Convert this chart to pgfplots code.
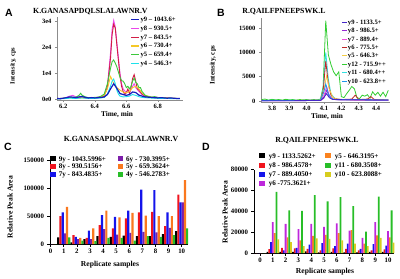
\documentclass[border=0pt]{standalone}
\usepackage{pgfplots}
\pgfplotsset{compat=1.18}
\usepackage{fontspec}
\setmainfont{Liberation Serif}
\newfontfamily\sansf{Liberation Sans}

\definecolor{aBlue}{RGB}{20,30,190}
\definecolor{aMag}{RGB}{235,70,235}
\definecolor{aRed}{RGB}{210,30,70}
\definecolor{aYel}{RGB}{245,200,40}
\definecolor{aGrn}{RGB}{60,200,60}
\definecolor{aCya}{RGB}{30,225,235}
\definecolor{bInd}{RGB}{70,40,200}
\definecolor{bPur}{RGB}{150,40,210}
\definecolor{bMag}{RGB}{240,80,220}
\definecolor{bRed}{RGB}{190,40,40}
\definecolor{bYel}{RGB}{245,205,70}
\definecolor{bGrn}{RGB}{50,205,50}
\definecolor{bCya}{RGB}{50,225,225}
\definecolor{bBlu}{RGB}{30,150,235}
\definecolor{cRed}{RGB}{240,20,30}
\definecolor{cBlue}{RGB}{20,20,235}
\definecolor{cPur}{RGB}{125,30,170}
\definecolor{cOra}{RGB}{250,120,30}
\definecolor{cGrn}{RGB}{40,190,40}
\definecolor{dPur}{RGB}{190,40,220}
\definecolor{dOra}{RGB}{250,130,30}
\definecolor{dOli}{RGB}{215,205,30}

\pgfplotsset{
  common/.style={scale only axis, axis x line*=bottom, axis y line*=left,
    tick align=outside, major tick length=2pt,
    /pgf/number format/assume math mode=true, /pgf/number format/1000 sep={},
    scaled y ticks=false, scaled x ticks=false,
    xticklabel style={yshift=1pt},
    legend cell align=left},
  chrom/.style={common,
    axis line style={black!45, line width=0.6pt}, tick style={black!45, line width=0.5pt},
    ticklabel style={font=\fontsize{6.5}{7}\selectfont\bfseries},
    xticklabel={\pgfmathprintnumber[fixed,fixed zerofill,precision=1]{\tick}},
    legend image code/.code={\draw[#1] (0pt,0pt) -- (8pt,0pt);},
    legend style={draw=none, fill=none, anchor=north west,
      font=\fontsize{6.6}{7}\selectfont\bfseries,
      nodes={inner sep=0.6pt, text height=5pt, text depth=1.2pt}, row sep=1.4pt},
  },
  bars/.style={common,
    axis line style={black, line width=0.8pt}, tick style={black, line width=0.7pt}, major tick length=2.5pt,
    ticklabel style={font=\fontsize{6.8}{7}\selectfont\bfseries},
    xticklabel={\pgfmathprintnumber[fixed,precision=0]{\tick}},
    yticklabel={\pgfmathprintnumber[fixed,precision=0]{\tick}},
    legend image code/.code={\fill[#1] (0pt,-2.4pt) rectangle (5.5pt,2.6pt);},
    legend style={draw=none, fill=none, anchor=north west,
      font=\fontsize{7.1}{7.5}\selectfont\bfseries,
      nodes={inner sep=0.6pt, text height=5.2pt, text depth=1.3pt}},
  },
}

\begin{document}
\begin{tikzpicture}
\path[use as bounding box] (0pt,0pt) rectangle (400pt,-279pt);

% ---------------- A ----------------
\begin{axis}[chrom, at={(57pt,-100pt)}, anchor=south west, width=126pt, height=83pt,
  xmin=6.16, xmax=6.96, ymin=-300, ymax=31800,
  xtick={6.2,6.4,6.6,6.8}, ytick={0,10000,20000,30000}, yticklabels={0e0,1e4,2e4,3e4},
  legend style={at={(0.56,1.04)}}]
\addplot[aMag, line width=0.9pt, forget plot] coordinates {(6.16,200)(6.20,400)(6.22,700)(6.24,1200)(6.26,1500)(6.28,900)(6.30,700)(6.32,900)(6.34,600)(6.36,500)(6.38,700)(6.40,600)(6.42,800)(6.44,900)(6.46,1500)(6.48,5000)(6.50,18000)(6.51,27000)(6.52,30500)(6.53,28000)(6.54,22000)(6.55,16000)(6.56,10000)(6.57,6000)(6.58,4000)(6.60,2500)(6.61,3500)(6.62,2500)(6.64,5000)(6.65,6000)(6.66,4500)(6.68,3000)(6.70,1800)(6.72,1200)(6.74,800)(6.76,600)(6.78,900)(6.80,700)(6.82,500)(6.84,400)(6.86,600)(6.88,400)(6.90,300)(6.94,300)};
\addplot[aRed, line width=0.9pt, forget plot] coordinates {(6.16,200)(6.20,300)(6.24,700)(6.28,600)(6.32,700)(6.36,400)(6.40,500)(6.44,800)(6.46,1200)(6.48,4500)(6.50,16000)(6.51,25000)(6.52,29000)(6.53,27500)(6.54,21000)(6.55,15000)(6.56,9000)(6.57,5000)(6.58,3000)(6.59,1800)(6.60,2500)(6.61,4000)(6.62,2200)(6.63,4500)(6.64,8000)(6.65,9500)(6.66,7000)(6.67,4000)(6.68,3500)(6.70,2000)(6.72,1200)(6.74,800)(6.78,600)(6.82,500)(6.86,400)(6.90,300)(6.94,300)};
\addplot[aYel, line width=0.9pt, forget plot] coordinates {(6.16,200)(6.20,300)(6.24,600)(6.28,400)(6.32,500)(6.36,400)(6.40,500)(6.42,600)(6.44,1000)(6.46,1500)(6.48,4000)(6.50,8800)(6.51,7500)(6.52,6000)(6.53,5500)(6.54,4500)(6.56,3500)(6.58,2800)(6.60,2500)(6.62,3000)(6.64,4500)(6.66,5000)(6.68,4000)(6.70,2500)(6.72,1500)(6.74,1200)(6.76,800)(6.80,600)(6.84,500)(6.88,400)(6.92,300)(6.94,300)};
\addplot[aGrn, line width=0.9pt, forget plot] coordinates {(6.16,200)(6.20,400)(6.24,700)(6.28,800)(6.30,1500)(6.31,2300)(6.32,1500)(6.34,900)(6.36,600)(6.40,700)(6.42,800)(6.44,1200)(6.46,2000)(6.48,6000)(6.50,12000)(6.51,14500)(6.52,15200)(6.53,14000)(6.54,12500)(6.55,10500)(6.56,8500)(6.57,7200)(6.58,7000)(6.59,6000)(6.60,4500)(6.61,5000)(6.62,4000)(6.63,5000)(6.64,7000)(6.65,8200)(6.66,6500)(6.67,6000)(6.68,4500)(6.69,4500)(6.70,3000)(6.72,1500)(6.74,1000)(6.76,800)(6.78,1000)(6.80,700)(6.84,500)(6.88,400)(6.92,300)(6.94,300)};
\addplot[aCya, line width=0.9pt, forget plot] coordinates {(6.16,100)(6.20,200)(6.24,400)(6.28,300)(6.32,500)(6.36,300)(6.40,300)(6.44,500)(6.46,700)(6.48,2000)(6.50,5000)(6.51,7000)(6.52,7800)(6.53,6000)(6.54,3500)(6.55,2000)(6.56,1200)(6.58,900)(6.60,1000)(6.62,1200)(6.64,1800)(6.66,1500)(6.68,1000)(6.70,700)(6.74,500)(6.78,400)(6.82,300)(6.86,300)(6.90,200)(6.94,200)};
\addplot[aBlue, line width=1.2pt, forget plot] coordinates {(6.16,300)(6.18,200)(6.20,400)(6.22,600)(6.24,900)(6.26,800)(6.28,600)(6.30,900)(6.32,1100)(6.34,700)(6.36,500)(6.38,600)(6.40,500)(6.42,600)(6.44,700)(6.46,900)(6.48,1800)(6.50,4000)(6.52,6000)(6.54,4200)(6.56,2200)(6.58,1800)(6.60,1500)(6.62,1800)(6.64,2800)(6.66,2600)(6.68,1600)(6.70,1200)(6.72,900)(6.74,800)(6.76,700)(6.78,600)(6.80,500)(6.82,600)(6.84,500)(6.86,400)(6.88,500)(6.90,400)(6.92,300)(6.94,300)};
\addlegendimage{aBlue, line width=1.2pt}\addlegendentry{y9 -- 1043.6+}
\addlegendimage{aMag, line width=1.2pt}\addlegendentry{y8 -- 930.5+}
\addlegendimage{aRed, line width=1.2pt}\addlegendentry{y7 -- 843.5+}
\addlegendimage{aYel, line width=1.2pt}\addlegendentry{y6 -- 730.4+}
\addlegendimage{aGrn, line width=1.2pt}\addlegendentry{y5 -- 659.4+}
\addlegendimage{aCya, line width=1.2pt}\addlegendentry{y4 -- 546.3+}
\end{axis}

% ---------------- B ----------------
\begin{axis}[chrom, at={(261pt,-102pt)}, anchor=south west, width=129pt, height=83.7pt,
  xmin=3.737, xmax=4.48, ymin=-200, ymax=17000,
  xtick={3.8,3.9,4.0,4.1,4.2,4.3,4.4}, ytick={0,5000,10000,15000},
  yticklabel={\pgfmathprintnumber[fixed,precision=0]{\tick}},
  legend image code/.code={\draw[#1] (0pt,0pt) -- (5pt,0pt);},
  legend style={at={(0.6,1.02)}, nodes={inner sep=0.4pt}}]
\addplot[bGrn, line width=0.8pt, forget plot] coordinates {(3.74,300)(3.76,400)(3.78,200)(3.80,350)(3.82,250)(3.84,300)(3.86,200)(3.88,350)(3.90,250)(3.92,300)(3.94,200)(3.96,300)(3.98,250)(4.00,300)(4.02,200)(4.04,300)(4.06,250)(4.08,400)(4.095,3000)(4.11,16500)(4.125,9500)(4.14,7500)(4.155,6000)(4.17,5200)(4.185,6000)(4.20,900)(4.215,700)(4.23,1500)(4.245,2200)(4.26,3000)(4.275,2500)(4.29,700)(4.305,500)(4.32,1200)(4.335,1000)(4.35,1300)(4.365,600)(4.38,1900)(4.395,1200)(4.41,1800)(4.425,1000)(4.44,1800)(4.455,900)(4.47,2200)};
\addplot[bCya, line width=0.8pt, forget plot] coordinates {(3.74,100)(3.80,150)(3.86,100)(3.92,150)(3.98,100)(4.04,150)(4.08,200)(4.095,2500)(4.11,10000)(4.125,4500)(4.14,1500)(4.155,800)(4.17,400)(4.20,300)(4.25,200)(4.30,300)(4.35,200)(4.40,300)(4.47,200)};
\addplot[bRed, line width=0.8pt, forget plot] coordinates {(3.74,100)(3.90,100)(4.08,150)(4.095,2000)(4.11,8200)(4.125,3500)(4.14,1200)(4.16,500)(4.20,300)(4.26,400)(4.28,1200)(4.30,300)(4.35,400)(4.37,900)(4.39,300)(4.47,200)};
\addplot[bYel, line width=0.8pt, forget plot] coordinates {(3.74,100)(4.08,150)(4.095,1500)(4.115,5200)(4.13,2500)(4.15,800)(4.17,400)(4.22,300)(4.30,200)(4.47,200)};
\addplot[bMag, line width=0.8pt, forget plot] coordinates {(3.74,80)(4.08,100)(4.10,1200)(4.115,3000)(4.13,1200)(4.15,400)(4.20,200)(4.47,150)};
\addplot[bPur, line width=0.8pt, forget plot] coordinates {(3.74,50)(4.08,100)(4.10,600)(4.115,2200)(4.13,900)(4.15,300)(4.47,150)};
\addplot[bBlu, line width=0.8pt, forget plot] coordinates {(3.74,80)(4.08,150)(4.10,2000)(4.11,3500)(4.125,1500)(4.14,600)(4.16,300)(4.47,200)};
\addplot[bInd, line width=0.8pt, forget plot] coordinates {(3.74,50)(4.08,100)(4.10,800)(4.115,1500)(4.13,700)(4.15,300)(4.47,200)};
\addlegendimage{bInd, line width=1pt}\addlegendentry{y9 - 1133.5+}
\addlegendimage{bPur, line width=1pt}\addlegendentry{y8 - 986.5+}
\addlegendimage{bMag, line width=1pt}\addlegendentry{y7 - 889.4+}
\addlegendimage{bRed, line width=1pt}\addlegendentry{y6 - 775.5+}
\addlegendimage{bYel, line width=1pt}\addlegendentry{y5 - 646.3+}
\addlegendimage{bGrn, line width=1pt}\addlegendentry{y12 - 715.9++}
\addlegendimage{bCya, line width=1pt}\addlegendentry{y11 - 680.4++}
\addlegendimage{bBlu, line width=1pt}\addlegendentry{y10 - 623.8++}
\end{axis}

% ---------------- C ----------------
\begin{axis}[bars, at={(50pt,-244pt)}, anchor=south west, width=138.2pt, height=83.3pt,
  xmin=-0.05, xmax=10.5, ymin=0, ymax=150000,
  xtick={0,1,2,3,4,5,6,7,8,9,10}, ytick={0,50000,100000,150000},
  legend columns=2,
  legend style={at={(-0.022,1.092)},
    /tikz/every odd column/.append style={column sep=2.5pt},
    /tikz/every even column/.append style={column sep=11pt}}]
\addplot[ybar, fill=black, draw=none, bar width=2.2pt, bar shift=-5.5pt] coordinates {(0,0)(1,12000)(2,3000)(3,9000)(4,14000)(5,13000)(6,15000)(7,14000)(8,14000)(9,18000)(10,23000)};
\addlegendentry{9y - 1043.5996+}
\addplot[ybar, fill=cPur, draw=none, bar width=2.2pt, bar shift=1.1pt] coordinates {(0,0)(1,19000)(2,9000)(3,9000)(4,27000)(5,17000)(6,20000)(7,22000)(8,21000)(9,29000)(10,75000)};
\addlegendentry{6y - 730.3995+}
\addplot[ybar, fill=cRed, draw=none, bar width=2.2pt, bar shift=-3.3pt] coordinates {(0,0)(1,50000)(2,16000)(3,11000)(4,34000)(5,28000)(6,46000)(7,57000)(8,58000)(9,32000)(10,89000)};
\addlegendentry{8y - 930.5156+}
\addplot[ybar, fill=cOra, draw=none, bar width=2.2pt, bar shift=3.3pt] coordinates {(0,0)(1,67000)(2,11000)(3,28000)(4,60000)(5,48000)(6,56000)(7,51000)(8,50000)(9,50000)(10,115000)};
\addlegendentry{5y - 659.3624+}
\addplot[ybar, fill=cBlue, draw=none, bar width=2.2pt, bar shift=-1.1pt] coordinates {(0,0)(1,57000)(2,13000)(3,24000)(4,52000)(5,49000)(6,60000)(7,98000)(8,97000)(9,57000)(10,75000)};
\addlegendentry{7y - 843.4835+}
\addplot[ybar, fill=cGrn, draw=none, bar width=2.2pt, bar shift=5.5pt] coordinates {(0,0)(1,12000)(2,6000)(3,5000)(4,11000)(5,11000)(6,6000)(7,14000)(8,13000)(9,16000)(10,28000)};
\addlegendentry{4y - 546.2783+}
\end{axis}

% ---------------- D ----------------
\begin{axis}[bars, at={(254pt,-253pt)}, anchor=south west, width=140.4pt, height=83.4pt,
  xmin=-0.47, xmax=10.5, ymin=0, ymax=80000,
  xtick={0,1,2,3,4,5,6,7,8,9,10}, ytick={0,20000,40000,60000,80000},
  legend columns=2,
  legend style={at={(0.014,1.235)}, row sep=1.6pt,
    /tikz/every odd column/.append style={column sep=3.5pt},
    /tikz/every even column/.append style={column sep=9pt}}]
\addplot[ybar, fill=black, draw=none, bar width=1.8pt, bar shift=-5.4pt] coordinates {(0,0)(1,1000)(2,1000)(3,1000)(4,1500)(5,500)(6,1000)(7,500)(8,500)(9,1000)(10,1000)};
\addlegendentry{y9 - 1133.5262+}
\addplot[ybar, fill=dOra, draw=none, bar width=1.8pt, bar shift=1.8pt] coordinates {(0,0)(1,19000)(2,15000)(3,12000)(4,16500)(5,17500)(6,19000)(7,22000)(8,9000)(9,17000)(10,15000)};
\addlegendentry{y5 - 646.3195+}
\addplot[ybar, fill=cRed, draw=none, bar width=1.8pt, bar shift=-3.6pt] coordinates {(0,0)(1,3800)(2,5000)(3,4500)(4,4000)(5,2500)(6,4500)(7,4000)(8,2500)(9,2500)(10,3500)};
\addlegendentry{y8 - 986.4578+}
\addplot[ybar, fill=cGrn, draw=none, bar width=1.8pt, bar shift=3.6pt] coordinates {(0,0)(1,58700)(2,41000)(3,40500)(4,55500)(5,49500)(6,53500)(7,45000)(8,20500)(9,54000)(10,41000)};
\addlegendentry{y11 - 680.3508+}
\addplot[ybar, fill=cBlue, draw=none, bar width=1.8pt, bar shift=-1.8pt] coordinates {(0,0)(1,10500)(2,2500)(3,5000)(4,8000)(5,9500)(6,6500)(7,9000)(8,4000)(9,8500)(10,7000)};
\addlegendentry{y7 - 889.4050+}
\addplot[ybar, fill=dOli, draw=none, bar width=1.8pt, bar shift=5.4pt] coordinates {(0,0)(1,13000)(2,10500)(3,6500)(4,14000)(5,13500)(6,12000)(7,9000)(8,6500)(9,14500)(10,10000)};
\addlegendentry{y10 - 623.8088+}
\addplot[ybar, fill=dPur, draw=none, bar width=1.8pt, bar shift=0pt] coordinates {(0,0)(1,29500)(2,28000)(3,23000)(4,28000)(5,25000)(6,28500)(7,21500)(8,14500)(9,29500)(10,21000)};
\addlegendentry{y6 -775.3621+}
\end{axis}

% ---------------- texts ----------------
\begin{scope}[every node/.style={inner sep=0pt}]
\node[font=\sansf\bfseries\fontsize{10.5}{11}\selectfont] at (9pt,-13pt) {A};
\node[font=\sansf\bfseries\fontsize{10.5}{11}\selectfont] at (221pt,-13pt) {B};
\node[font=\sansf\bfseries\fontsize{10.5}{11}\selectfont] at (8pt,-147pt) {C};
\node[font=\sansf\bfseries\fontsize{10.5}{11}\selectfont] at (206pt,-147pt) {D};
\node[font=\bfseries\fontsize{7.8}{8}\selectfont, anchor=west] at (33pt,-12pt) {K.GANASAPDQLSLALAWNR.V};
\node[font=\bfseries\fontsize{7.8}{8}\selectfont] at (284pt,-12pt) {R.QAILFPNEEPSWK.L};
\node[font=\bfseries\fontsize{7.8}{8}\selectfont] at (121pt,-140pt) {K.GANASAPDQLSLALAWNR.V};
\node[font=\bfseries\fontsize{7.8}{8}\selectfont] at (317pt,-141pt) {R.QAILFPNEEPSWK.L};
\node[font=\bfseries\fontsize{7.3}{8}\selectfont] at (117pt,-114.5pt) {Time, min};
\node[font=\bfseries\fontsize{7.3}{8}\selectfont] at (327pt,-116.5pt) {Time, min};
\node[font=\bfseries\fontsize{7.6}{8}\selectfont] at (110pt,-265pt) {Replicate samples};
\node[font=\bfseries\fontsize{7.6}{8}\selectfont] at (325pt,-272pt) {Replicate samples};
\node[font=\bfseries\fontsize{6.5}{7}\selectfont, rotate=90] at (13pt,-66pt) {Intensity, cps};
\node[font=\bfseries\fontsize{7}{8}\selectfont, rotate=90] at (213pt,-65pt) {Intensity, cps};
\node[font=\bfseries\fontsize{7.6}{8}\selectfont, rotate=90] at (10pt,-207pt) {Relative Peak Area};
\node[font=\bfseries\fontsize{7.6}{8}\selectfont, rotate=90] at (225pt,-212pt) {Relative Peak Area};
\end{scope}
\end{tikzpicture}
\end{document}
